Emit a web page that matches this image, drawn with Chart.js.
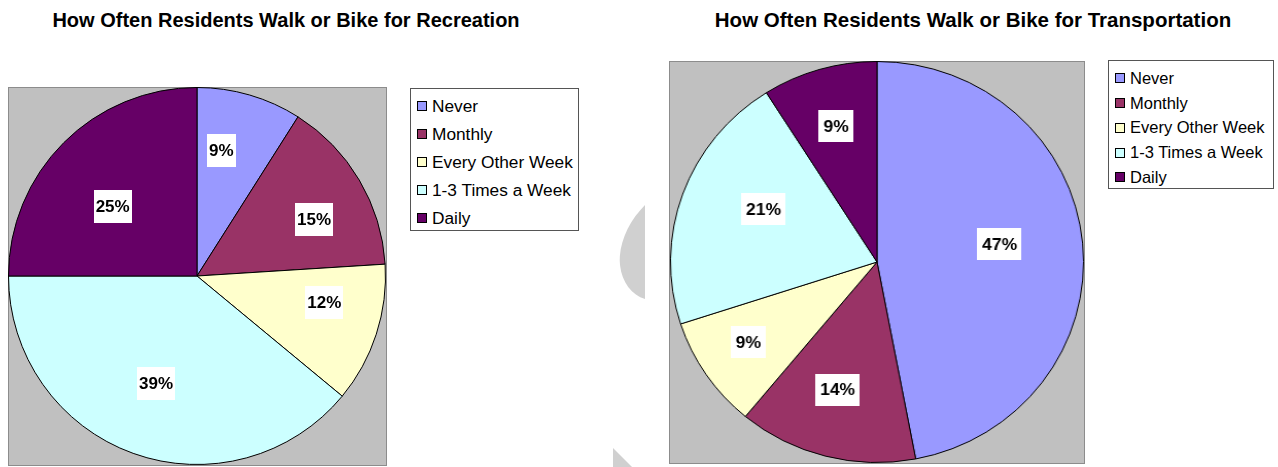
<!DOCTYPE html>
<html>
<head>
<meta charset="utf-8">
<script src="https://cdn.jsdelivr.net/npm/chart.js@4.4.1/dist/chart.umd.min.js"></script>
<style>
body { margin: 0; width: 1278px; height: 467px; background: #fff; overflow: hidden; position: relative;
       font-family: "Liberation Sans", Arial, sans-serif; color: #000; }
.title { position: absolute; top: 10px; font-size: 20px; line-height: 20px; font-weight: bold;
         white-space: nowrap; transform: translateX(-50%); }
.plot { position: absolute; background: #c0c0c0; border: 1px solid #8c8c8c; box-sizing: border-box; }
.pie { position: absolute; transform-origin: 0 0; }
.legend { position: absolute; border: 1px solid #555; box-sizing: border-box; background: #fff; }
.legend .row { display: flex; align-items: center; white-space: nowrap; }
.legend .swatch { width: 10px; height: 10px; border: 1px solid #000; box-sizing: border-box; margin-right: 5px; flex: none; }
#wm { position: absolute; left: 0; top: 0; }
</style>
</head>
<body>

<svg id="wm" width="1278" height="467">
  <path d="M645,205 C628,222 618,245 620,265 C622,283 632,295 645,299 Z" fill="#d0d0d0"/>
  <path d="M613,448 L632,467 L613,467 Z" fill="#d0d0d0"/>
</svg>

<div class="title" style="left:286px">How Often Residents Walk or Bike for Recreation</div>
<div class="plot" style="left:8px;top:87px;width:379px;height:379px"></div>
<div class="pie" style="left:8px;top:87px"><canvas id="recreation" width="378" height="378"></canvas></div>
<div class="legend" id="legendRec" style="left:410px;top:88px;width:169px;height:143px;padding:3px 0 0 6px;font-size:17.3px"></div>

<div class="title" style="left:973px;font-size:20.5px">How Often Residents Walk or Bike for Transportation</div>
<div class="plot" style="left:669px;top:61px;width:416px;height:403px"></div>
<div class="pie" style="left:670px;top:61px;transform:scaleX(1.0299)"><canvas id="transport" width="402" height="402"></canvas></div>
<div class="legend" id="legendTra" style="left:1108px;top:60px;width:166px;height:129px;padding:5px 0 0 6px;font-size:16.5px"></div>

<script>
// categories and shares (percent), read clockwise from 12 o'clock
const categories = ['Never', 'Monthly', 'Every Other Week', '1-3 Times a Week', 'Daily'];
const recreationPct = [9, 15, 12, 39, 25];
const transportPct = [47, 14, 9, 21, 9];
const sliceColors = ['#9999FF', '#993366', '#FFFFCC', '#CCFFFF', '#660066'];

// white boxed percentage labels inside the slices
const sliceLabels = {
    id: 'sliceLabels',
    afterDatasetsDraw(chart, args, opts) {
        const ctx = chart.ctx
        const meta = chart.getDatasetMeta(0)
        const values = chart.data.datasets[0].data
        ctx.save()
        ctx.font = 'bold 17px "Liberation Sans", Arial, sans-serif'
        ctx.textAlign = 'center'
        ctx.textBaseline = 'middle'
        meta.data.forEach((arc, i) => {
            const p = arc.getProps(['x', 'y', 'startAngle', 'endAngle', 'outerRadius'], true)
            const mid = (p.startAngle + p.endAngle) / 2 + opts.shift[i] * Math.PI / 180
            const r = p.outerRadius * opts.radius[i]
            const lx = p.x + Math.cos(mid) * r
            const ly = p.y + Math.sin(mid) * r
            const text = values[i] + '%'
            const w = Math.round(ctx.measureText(text).width + opts.padX * 2)
            const h = opts.boxH
            ctx.fillStyle = '#fff'
            ctx.fillRect(Math.round(lx - w / 2), Math.round(ly - h / 2), w, h)
            ctx.fillStyle = '#000'
            ctx.fillText(text, lx, ly + 1)
        })
        ctx.restore()
    }
}

function makePie(id, values, labelOpts) {
    return new Chart(document.getElementById(id), {
        type: 'pie',
        data: {
            labels: categories,
            datasets: [{
                data: values,
                backgroundColor: sliceColors,
                borderColor: '#000',
                borderWidth: 1
            }]
        },
        options: {
            responsive: false,
            animation: false,
            layout: { padding: 0 },
            plugins: {
                legend: { display: false },
                tooltip: { enabled: false },
                sliceLabels: labelOpts
            }
        },
        plugins: [sliceLabels]
    })
}

function makeLegend(id, rowHeight) {
    const box = document.getElementById(id)
    categories.forEach((name, i) => {
        const row = document.createElement('div')
        row.className = 'row'
        row.style.height = rowHeight + 'px'
        const sw = document.createElement('span')
        sw.className = 'swatch'
        sw.style.background = sliceColors[i]
        const txt = document.createElement('span')
        txt.textContent = name
        row.appendChild(sw)
        row.appendChild(txt)
        box.appendChild(row)
    })
}

makePie('recreation', recreationPct, {
    radius: [0.68, 0.69, 0.69, 0.61, 0.58], shift: [-5.3, 4.8, -6.2, 1.1, -5.5], padX: 2, boxH: 33
})
makePie('transport', transportPct, {
    radius: [0.60, 0.665, 0.74, 0.61, 0.705], shift: [-3.1, 2.3, 1.6, 5.9, -0.1], padX: 4.5, boxH: 32
})
makeLegend('legendRec', 28)
makeLegend('legendTra', 24.75)
</script>
</body>
</html>
